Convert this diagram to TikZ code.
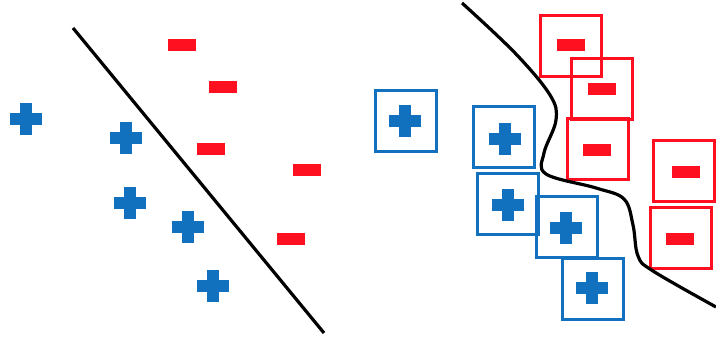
\documentclass[tikz,border=0pt]{standalone}
\usepackage{xcolor}
\usepackage{tikz}
\definecolor{plusblue}{RGB}{18,113,190}
\definecolor{minusred}{RGB}{255,16,32}
\tikzset{
  minusbar/.style={fill=minusred, inner sep=0, outer sep=0, minimum width=0.7cm, minimum height=0.3cm},
  plusbar/.style={fill=plusblue, inner sep=0, outer sep=0, minimum width=0.78cm, minimum height=0.31cm},
  bluebox/.style={draw=plusblue, line width=0.075cm, inner sep=0, minimum size=1.53cm},
  redbox/.style={draw=minusred, line width=0.075cm, inner sep=0, minimum size=1.53cm},
  border/.style={black, line width=0.08cm}
}
\begin{document}
\begin{tikzpicture}[x=0.025cm, y=-0.025cm]
                    \useasboundingbox (0,0) rectangle (716,339);
                    % left: straight boundary
                    \coordinate (l0) at (73,28);
                    \coordinate (l1) at (324,333);
                    \draw[border] (l0) -- (l1);
                    \foreach \x/\y [count=\i] in {26/119,126/138,130/203,188/227,213/286} {
                        \node[plusbar] (lp\i) at (\x,\y) {};
                        \node[plusbar, rotate=90] (lpv\i) at (lp\i) {};
                    }
                    \foreach \x/\y [count=\i] in {182/45,223/87,211/149,307/170,291/239} {
                        \node[minusbar] (lm\i) at (\x,\y) {};
                    }

                    % right: boxed points and curved boundary
                    \foreach \bx/\by/\x/\y [count=\i] in {406/121/405/121,504/137/505/139,508/204/508/205,567/227/566/228,593/289/592/288} {
                        \node[bluebox] (rb\i) at (\bx,\by) {};
                        \node[plusbar] (rp\i) at (\x,\y) {};
                        \node[plusbar, rotate=90] (rpv\i) at (rp\i) {};
                    }
                    \foreach \bx/\by/\x/\y [count=\i] in {571/46/571/45,602/89/602/89,598/149/597/150,684/171/686/172,681/238/680/239} {
                        \node[redbox] (rr\i) at (\bx,\by) {};
                        \node[minusbar] (rm\i) at (\x,\y) {};
                    }
                    \draw[border] plot[smooth, tension=0.6] coordinates {
                        (462,3) (515,53) (550,95) (556,120) (544,153) (546,174)
                        (596,188) (624,199) (633,225) (638,256) (653,271) (716,307)};
                \end{tikzpicture}
\end{document}
